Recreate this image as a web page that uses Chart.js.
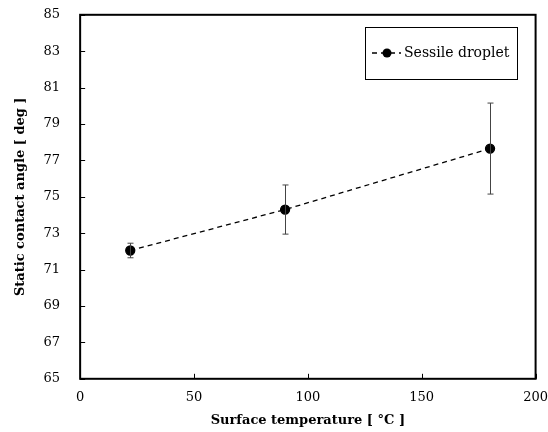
<!DOCTYPE html>
<html>
<head>
<meta charset="utf-8">
<script src="https://cdn.jsdelivr.net/npm/chart.js@4"></script>
<style>
  body { margin: 0; background: #fff; overflow: hidden; }
  #clip { width: 548px; height: 432px; overflow: hidden; position: relative; }
  #wrap { position: absolute; left: 0; top: -5px; width: 551px; height: 437px; }
</style>
</head>
<body>
<div id="clip"><div id="wrap"><canvas id="angleChart"></canvas></div></div>
<script>
// data
var temps = [22, 90, 180];
var angles = [72.05, 74.3, 77.65];
var errs = [0.4, 1.35, 2.5];
var seriesName = 'Sessile droplet';
var xTicks = [0, 50, 100, 150, 200];
var yTicks = [65, 67, 69, 71, 73, 75, 77, 79, 81, 83, 85];

var serif = "'DejaVu Serif', 'Liberation Serif', serif";

// error bars, inside ticks, frame and boxed legend
var extras = {
  id: 'extras',
  afterDatasetsDraw: function(chart) {
    var ctx = chart.ctx, xs = chart.scales.x, ys = chart.scales.y, a = chart.chartArea;
    ctx.save();
    ctx.strokeStyle = '#444';
    ctx.lineWidth = 1;
    for (var i = 0; i < temps.length; i++) {
      var px = Math.round(xs.getPixelForValue(temps[i])) + 0.5;
      var top = ys.getPixelForValue(angles[i] + errs[i]);
      var bot = ys.getPixelForValue(angles[i] - errs[i]);
      ctx.beginPath();
      ctx.moveTo(px, top); ctx.lineTo(px, bot);
      ctx.moveTo(px - 3, top); ctx.lineTo(px + 3, top);
      ctx.moveTo(px - 3, bot); ctx.lineTo(px + 3, bot);
      ctx.stroke();
    }
    // frame
    ctx.strokeStyle = '#000';
    ctx.lineWidth = 2;
    ctx.strokeRect(a.left, a.top, a.right - a.left, a.bottom - a.top);
    // inside ticks
    ctx.lineWidth = 1;
    ctx.beginPath();
    yTicks.forEach(function(v) {
      var py = Math.round(ys.getPixelForValue(v)) + 0.5;
      ctx.moveTo(a.left, py); ctx.lineTo(a.left + 5, py);
    });
    xTicks.forEach(function(v) {
      var px = Math.round(xs.getPixelForValue(v)) + 0.5;
      ctx.moveTo(px, a.bottom); ctx.lineTo(px, a.bottom - 5);
    });
    ctx.stroke();
    // legend box (canvas is shifted up 5px)
    var lx = 365, ly = 32, lw = 152, lh = 52;
    ctx.fillStyle = '#fff';
    ctx.fillRect(lx, ly, lw, lh);
    ctx.strokeStyle = '#000';
    ctx.lineWidth = 1;
    ctx.strokeRect(lx + 0.5, ly + 0.5, lw, lh);
    var cy = ly + lh / 2;
    ctx.setLineDash([5, 4]);
    ctx.lineWidth = 1.5;
    ctx.beginPath();
    ctx.moveTo(372, cy); ctx.lineTo(401, cy);
    ctx.stroke();
    ctx.setLineDash([]);
    ctx.fillStyle = '#000';
    ctx.beginPath();
    ctx.arc(387, cy, 4.5, 0, Math.PI * 2);
    ctx.fill();
    ctx.font = "14px " + serif;
    ctx.textBaseline = 'middle';
    ctx.textAlign = 'left';
    ctx.fillText(seriesName, 404, cy);
    ctx.restore();
  }
};

new Chart("angleChart", {
  type: "scatter",
  data: {
    datasets: [{
      label: seriesName,
      data: temps.map(function(t, i) { return {x: t, y: angles[i]}; }),
      showLine: true,
      fill: false,
      borderColor: '#000',
      borderWidth: 1.3,
      borderDash: [5, 4],
      backgroundColor: '#000',
      pointRadius: 4.5,
      pointHoverRadius: 4.5
    }]
  },
  options: {
    responsive: true,
    maintainAspectRatio: false,
    animation: false,
    layout: { padding: { top: 0, right: 2, left: 9, bottom: 0 } },
    plugins: {
      legend: { display: false },
      tooltip: { enabled: false }
    },
    scales: {
      x: {
        type: 'linear',
        min: 0, max: 200,
        afterBuildTicks: function(s) { s.ticks = xTicks.map(function(v) { return {value: v}; }); },
        grid: { display: false },
        border: { display: false },
        ticks: { color: '#000', font: { family: serif, size: 13 }, padding: 3, maxRotation: 0 },
        title: { display: true, text: 'Surface temperature [ °C ]', color: '#000',
                 font: { family: serif, size: 13, weight: 'bold' }, padding: { top: 4, bottom: 4 } }
      },
      y: {
        min: 65, max: 85,
        afterBuildTicks: function(s) { s.ticks = yTicks.map(function(v) { return {value: v}; }); },
        grid: { display: false },
        border: { display: false },
        ticks: { color: '#000', font: { family: serif, size: 13 }, padding: 12 },
        title: { display: true, text: 'Static contact angle [ deg ]', color: '#000',
                 font: { family: serif, size: 13, weight: 'bold' }, padding: { bottom: 3 } }
      }
    }
  },
  plugins: [extras]
});
</script>
</body>
</html>
